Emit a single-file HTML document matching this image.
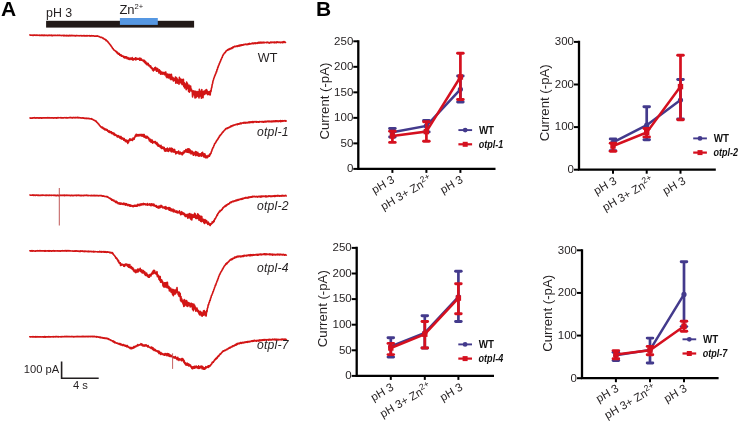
<!DOCTYPE html>
<html><head><meta charset="utf-8"><style>
html,body{margin:0;padding:0;background:#fff;}
body{width:741px;height:423px;overflow:hidden;}
svg{display:block;font-family:"Liberation Sans",sans-serif;will-change:transform;}
</style></head><body>
<svg width="741" height="423" viewBox="0 0 741 423">
<rect width="741" height="423" fill="#fff"/>
<text x="1" y="16.2" font-size="21" font-weight="bold" fill="#000">A</text>
<text x="316" y="16.2" font-size="21" font-weight="bold" fill="#000">B</text>
<rect x="46.1" y="20.8" width="148" height="6.8" fill="#221a18"/>
<rect x="119.9" y="18" width="37.9" height="6.9" fill="#5597e2"/>
<text x="46" y="16.8" font-size="12.4" fill="#231f20">pH 3</text>
<text x="119.4" y="13.5" font-size="13" fill="#231f20">Zn<tspan font-size="7.6" dy="-5">2+</tspan></text>
<path d="M29.40 35.25 L29.80 35.00 L30.20 35.28 L30.60 35.13 L31.00 35.20 L31.40 35.12 L31.80 35.29 L32.20 35.14 L32.60 35.37 L33.00 35.09 L33.40 35.44 L33.80 34.98 L34.20 35.22 L34.60 35.14 L35.00 35.28 L35.40 35.08 L35.80 35.33 L36.20 35.16 L36.60 35.36 L37.00 35.15 L37.40 35.33 L37.80 35.06 L38.20 35.32 L38.60 35.18 L39.00 35.46 L39.40 35.02 L39.80 35.39 L40.20 35.25 L40.60 35.34 L41.00 35.14 L41.40 35.52 L41.80 35.16 L42.20 35.46 L42.60 35.16 L43.00 35.48 L43.40 35.35 L43.80 35.57 L44.20 35.20 L44.60 35.49 L45.00 35.37 L45.40 35.41 L45.80 35.36 L46.20 35.41 L46.60 35.31 L47.00 35.43 L47.40 35.30 L47.80 35.65 L48.20 35.37 L48.60 35.55 L49.00 35.19 L49.40 35.46 L49.80 35.35 L50.20 35.53 L50.60 35.37 L51.00 35.49 L51.40 35.19 L51.80 35.55 L52.20 35.24 L52.60 35.65 L53.00 35.24 L53.40 35.54 L53.80 35.42 L54.20 35.46 L54.60 35.35 L55.00 35.47 L55.40 35.35 L55.80 35.42 L56.20 35.40 L56.60 35.55 L57.00 35.35 L57.40 35.48 L57.80 35.24 L58.20 35.56 L58.60 35.40 L59.00 35.51 L59.40 35.21 L59.80 35.49 L60.20 35.32 L60.60 35.55 L61.00 35.35 L61.40 35.71 L61.80 35.43 L62.20 35.57 L62.60 35.42 L63.00 35.61 L63.40 35.37 L63.80 35.80 L64.20 35.41 L64.60 35.66 L65.00 35.48 L65.40 35.57 L65.80 35.50 L66.20 35.80 L66.60 35.37 L67.00 35.83 L67.40 35.52 L67.80 35.61 L68.20 35.45 L68.60 35.80 L69.00 35.47 L69.40 35.66 L69.80 35.43 L70.20 35.82 L70.60 35.61 L71.00 35.76 L71.40 35.43 L71.80 35.79 L72.20 35.49 L72.60 35.68 L73.00 35.44 L73.40 35.73 L73.80 35.45 L74.20 35.78 L74.60 35.61 L75.00 35.91 L75.40 35.58 L75.80 35.83 L76.20 35.50 L76.60 35.74 L77.00 35.63 L77.40 35.75 L77.80 35.67 L78.20 35.80 L78.60 35.61 L79.00 35.87 L79.40 35.65 L79.80 35.84 L80.20 35.60 L80.60 35.75 L81.00 35.67 L81.40 35.90 L81.80 35.65 L82.20 35.89 L82.60 35.72 L83.00 35.80 L83.40 35.56 L83.80 35.90 L84.20 35.54 L84.60 35.91 L85.00 35.66 L85.40 35.89 L85.80 35.70 L86.20 36.00 L86.60 35.58 L87.00 35.97 L87.40 35.60 L87.80 35.84 L88.20 35.75 L88.60 35.83 L89.00 35.64 L89.40 35.89 L89.80 35.66 L90.20 36.07 L90.60 35.84 L91.00 36.00 L91.40 35.69 L91.80 35.98 L92.20 35.81 L92.60 35.98 L93.00 35.73 L93.40 36.04 L93.80 35.89 L94.20 36.09 L94.60 35.96 L95.00 36.23 L95.40 36.00 L95.80 36.09 L96.20 35.98 L96.60 36.19 L97.00 35.89 L97.40 36.18 L97.80 36.05 L98.20 36.32 L98.60 36.24 L99.00 36.63 L99.40 36.58 L99.80 36.96 L100.20 37.04 L100.60 37.34 L101.00 37.19 L101.40 37.55 L101.80 37.37 L102.20 37.78 L102.60 37.91 L103.00 38.32 L103.40 38.18 L103.80 38.88 L104.20 38.80 L104.60 39.26 L105.00 39.19 L105.40 39.82 L105.80 39.63 L106.20 40.57 L106.60 40.42 L107.00 41.01 L107.40 40.95 L107.80 41.89 L108.20 42.03 L108.60 42.94 L109.00 43.21 L109.40 43.87 L109.80 44.18 L110.20 44.92 L110.60 45.03 L111.00 46.01 L111.40 46.27 L111.80 47.00 L112.20 47.38 L112.60 48.49 L113.00 48.49 L113.40 49.24 L113.80 49.54 L114.20 50.25 L114.60 50.25 L115.00 50.72 L115.40 50.92 L115.80 51.34 L116.20 51.40 L116.60 52.31 L117.00 51.87 L117.40 53.26 L117.80 52.84 L118.20 54.10 L118.60 53.25 L119.00 54.23 L119.40 53.69 L119.80 55.21 L120.20 54.72 L120.60 55.53 L121.00 54.78 L121.40 56.15 L121.80 55.37 L122.20 56.18 L122.60 55.99 L123.00 56.56 L123.40 56.19 L123.80 57.41 L124.20 56.50 L124.60 57.84 L125.00 56.84 L125.40 57.89 L125.80 56.70 L126.20 57.61 L126.60 56.87 L127.00 58.62 L127.40 57.54 L127.80 58.72 L128.20 57.64 L128.60 59.11 L129.00 58.34 L129.40 59.45 L129.80 58.06 L130.20 58.85 L130.60 58.09 L131.00 59.53 L131.40 58.26 L131.80 59.22 L132.20 57.64 L132.60 59.99 L133.00 58.76 L133.40 59.97 L133.80 58.48 L134.20 59.38 L134.60 58.87 L135.00 59.32 L135.40 57.87 L135.80 59.89 L136.20 58.05 L136.60 59.48 L137.00 58.51 L137.40 59.16 L137.80 58.52 L138.20 59.19 L138.60 58.79 L139.00 59.35 L139.40 58.18 L139.80 60.28 L140.20 58.22 L140.60 59.82 L141.00 58.48 L141.40 60.21 L141.80 59.54 L142.20 60.37 L142.60 60.22 L143.00 60.93 L143.40 60.17 L143.80 61.49 L144.20 60.37 L144.60 62.55 L145.00 61.09 L145.40 63.19 L145.80 61.86 L146.20 64.00 L146.60 62.95 L147.00 64.70 L147.40 63.32 L147.80 64.75 L148.20 63.40 L148.60 65.80 L149.00 64.65 L149.40 65.87 L149.80 65.88 L150.20 67.10 L150.60 65.82 L151.00 67.87 L151.40 67.24 L151.80 68.40 L152.20 68.09 L152.60 69.96 L153.00 68.72 L153.40 70.86 L153.80 69.48 L154.20 69.85 L154.60 67.75 L155.00 69.86 L155.40 67.34 L155.80 69.26 L156.20 68.47 L156.60 71.28 L157.00 68.17 L157.40 70.31 L157.80 68.81 L158.20 71.45 L158.60 70.33 L159.00 73.02 L159.40 69.78 L159.80 72.01 L160.20 71.07 L160.60 74.23 L161.00 71.45 L161.40 73.77 L161.80 72.97 L162.20 74.13 L162.60 72.25 L163.00 73.92 L163.40 72.48 L163.80 74.04 L164.20 72.78 L164.60 74.77 L165.00 72.40 L165.40 74.69 L165.80 71.98 L166.20 76.79 L166.60 74.03 L167.00 77.60 L167.40 74.16 L167.80 76.65 L168.20 74.38 L168.60 77.87 L169.00 75.26 L169.40 77.08 L169.80 74.27 L170.20 78.97 L170.60 75.27 L171.00 79.78 L171.40 74.41 L171.80 78.18 L172.20 77.24 L172.60 79.57 L173.00 77.48 L173.40 81.01 L173.80 78.43 L174.20 80.46 L174.60 78.79 L175.00 79.92 L175.40 77.08 L175.80 83.22 L176.20 77.50 L176.60 82.05 L177.00 78.38 L177.40 83.21 L177.80 79.71 L178.20 81.38 L178.60 79.81 L179.00 84.22 L179.40 77.22 L179.80 82.78 L180.20 78.77 L180.60 82.48 L181.00 81.47 L181.40 83.68 L181.80 79.20 L182.20 84.74 L182.60 80.12 L183.00 83.21 L183.40 79.33 L183.80 86.57 L184.20 82.50 L184.60 88.05 L185.00 83.75 L185.40 86.14 L185.80 85.24 L186.20 89.80 L186.60 82.03 L187.00 87.23 L187.40 83.26 L187.80 88.71 L188.20 85.87 L188.60 91.36 L189.00 84.95 L189.40 92.30 L189.80 86.58 L190.20 90.56 L190.60 85.97 L191.00 91.06 L191.40 88.99 L191.80 91.23 L192.20 90.58 L192.60 96.93 L193.00 91.72 L193.40 94.03 L193.80 90.72 L194.20 94.86 L194.60 91.49 L195.00 97.91 L195.40 91.34 L195.80 97.70 L196.20 91.58 L196.60 96.92 L197.00 92.47 L197.40 95.04 L197.80 91.52 L198.20 96.34 L198.60 92.05 L199.00 97.90 L199.40 89.27 L199.80 96.21 L200.20 91.00 L200.60 94.78 L201.00 93.03 L201.40 98.26 L201.80 89.60 L202.20 97.43 L202.60 92.90 L203.00 97.63 L203.40 91.25 L203.80 94.54 L204.20 92.43 L204.60 94.51 L205.00 90.44 L205.40 93.35 L205.80 89.95 L206.20 93.71 L206.60 89.48 L207.00 92.86 L207.40 91.06 L207.80 94.72 L208.20 91.91 L208.60 94.12 L209.00 92.04 L209.40 94.58 L209.80 91.47 L210.20 94.99 L210.60 90.65 L211.00 91.51 L211.40 88.30 L211.80 87.43 L212.20 84.46 L212.60 83.50 L213.00 80.98 L213.40 80.05 L213.80 78.33 L214.20 77.67 L214.60 76.09 L215.00 75.67 L215.40 74.06 L215.80 73.81 L216.20 71.88 L216.60 71.75 L217.00 69.57 L217.40 69.43 L217.80 67.17 L218.20 67.15 L218.60 65.14 L219.00 64.98 L219.40 63.25 L219.80 62.92 L220.20 61.54 L220.60 60.94 L221.00 59.59 L221.40 59.12 L221.80 57.64 L222.20 57.47 L222.60 55.83 L223.00 55.46 L223.40 54.27 L223.80 54.21 L224.20 53.30 L224.60 53.09 L225.00 52.27 L225.40 52.43 L225.80 51.30 L226.20 51.19 L226.60 50.46 L227.00 50.42 L227.40 49.85 L227.80 50.16 L228.20 49.36 L228.60 49.71 L229.00 49.03 L229.40 49.52 L229.80 48.52 L230.20 49.15 L230.60 48.57 L231.00 48.77 L231.40 47.80 L231.80 48.51 L232.20 47.82 L232.60 47.98 L233.00 46.93 L233.40 47.53 L233.80 46.76 L234.20 46.88 L234.60 46.30 L235.00 46.42 L235.40 46.27 L235.80 46.68 L236.20 46.21 L236.60 46.30 L237.00 45.81 L237.40 46.47 L237.80 45.73 L238.20 46.07 L238.60 45.57 L239.00 46.13 L239.40 45.16 L239.80 45.79 L240.20 45.27 L240.60 45.69 L241.00 44.81 L241.40 45.53 L241.80 44.89 L242.20 45.16 L242.60 44.83 L243.00 45.11 L243.40 44.58 L243.80 44.81 L244.20 44.28 L244.60 44.58 L245.00 44.39 L245.40 44.55 L245.80 44.06 L246.20 44.59 L246.60 44.23 L247.00 44.33 L247.40 44.10 L247.80 44.60 L248.20 43.87 L248.60 44.08 L249.00 43.68 L249.40 44.19 L249.80 43.38 L250.20 43.98 L250.60 43.73 L251.00 43.87 L251.40 43.59 L251.80 43.66 L252.20 43.03 L252.60 43.59 L253.00 43.22 L253.40 43.77 L253.80 43.15 L254.20 43.39 L254.60 42.93 L255.00 43.37 L255.40 42.90 L255.80 43.56 L256.20 42.97 L256.60 43.10 L257.00 42.83 L257.40 43.34 L257.80 42.58 L258.20 43.14 L258.60 42.45 L259.00 42.96 L259.40 42.25 L259.80 43.07 L260.20 42.43 L260.60 42.97 L261.00 42.18 L261.40 42.93 L261.80 42.39 L262.20 42.81 L262.60 42.22 L263.00 42.75 L263.40 42.23 L263.80 42.78 L264.20 42.25 L264.60 42.63 L265.00 42.50 L265.40 42.56 L265.80 42.45 L266.20 42.62 L266.60 42.32 L267.00 42.73 L267.40 42.10 L267.80 42.51 L268.20 42.31 L268.60 42.93 L269.00 42.50 L269.40 43.07 L269.80 42.46 L270.20 42.52 L270.60 42.06 L271.00 42.82 L271.40 42.17 L271.80 42.47 L272.20 41.99 L272.60 42.51 L273.00 42.27 L273.40 42.51 L273.80 42.17 L274.20 42.84 L274.60 41.96 L275.00 42.42 L275.40 42.21 L275.80 42.61 L276.20 42.14 L276.60 42.75 L277.00 41.86 L277.40 42.27 L277.80 41.94 L278.20 42.35 L278.60 42.11 L279.00 42.43 L279.40 42.19 L279.80 42.54 L280.20 42.19 L280.60 42.65 L281.00 42.24 L281.40 42.41 L281.80 42.02 L282.20 42.60 L282.60 42.07 L283.00 42.62 L283.40 41.65 L283.80 42.17 L284.20 41.62 L284.60 42.31 L285.00 41.99 L285.40 42.39 L285.80 41.78" fill="none" stroke="#d21515" stroke-width="1.6" stroke-linejoin="round"/>
<path d="M29.40 118.07 L29.80 117.97 L30.20 118.18 L30.60 117.96 L31.00 118.20 L31.40 117.96 L31.80 118.19 L32.20 117.91 L32.60 118.15 L33.00 117.91 L33.40 118.00 L33.80 117.79 L34.20 117.97 L34.60 117.68 L35.00 117.99 L35.40 117.91 L35.80 118.21 L36.20 117.78 L36.60 118.01 L37.00 117.89 L37.40 117.99 L37.80 117.83 L38.20 118.08 L38.60 117.76 L39.00 117.96 L39.40 117.84 L39.80 118.15 L40.20 117.80 L40.60 118.01 L41.00 117.76 L41.40 118.13 L41.80 117.74 L42.20 118.08 L42.60 117.86 L43.00 117.95 L43.40 117.74 L43.80 118.05 L44.20 117.79 L44.60 118.02 L45.00 117.75 L45.40 117.96 L45.80 117.70 L46.20 118.03 L46.60 117.88 L47.00 117.97 L47.40 117.68 L47.80 117.94 L48.20 117.78 L48.60 118.02 L49.00 117.69 L49.40 118.01 L49.80 117.86 L50.20 118.01 L50.60 117.90 L51.00 117.97 L51.40 117.80 L51.80 117.87 L52.20 117.76 L52.60 117.91 L53.00 117.78 L53.40 118.07 L53.80 117.79 L54.20 117.91 L54.60 117.79 L55.00 118.03 L55.40 117.72 L55.80 117.91 L56.20 117.77 L56.60 118.06 L57.00 117.72 L57.40 117.92 L57.80 117.57 L58.20 117.96 L58.60 117.64 L59.00 117.81 L59.40 117.71 L59.80 117.78 L60.20 117.64 L60.60 117.82 L61.00 117.56 L61.40 117.97 L61.80 117.73 L62.20 118.00 L62.60 117.75 L63.00 117.89 L63.40 117.75 L63.80 117.89 L64.20 117.67 L64.60 117.79 L65.00 117.61 L65.40 117.94 L65.80 117.69 L66.20 117.89 L66.60 117.61 L67.00 117.97 L67.40 117.72 L67.80 117.90 L68.20 117.69 L68.60 117.88 L69.00 117.65 L69.40 117.79 L69.80 117.53 L70.20 117.76 L70.60 117.54 L71.00 117.71 L71.40 117.58 L71.80 117.86 L72.20 117.60 L72.60 117.89 L73.00 117.50 L73.40 117.68 L73.80 117.52 L74.20 117.79 L74.60 117.57 L75.00 117.87 L75.40 117.48 L75.80 117.75 L76.20 117.57 L76.60 117.79 L77.00 117.60 L77.40 117.74 L77.80 117.42 L78.20 117.81 L78.60 117.50 L79.00 117.81 L79.40 117.59 L79.80 117.84 L80.20 117.73 L80.60 118.01 L81.00 117.88 L81.40 118.15 L81.80 117.92 L82.20 117.98 L82.60 117.78 L83.00 118.22 L83.40 117.88 L83.80 118.29 L84.20 118.02 L84.60 118.35 L85.00 118.07 L85.40 118.41 L85.80 118.19 L86.20 118.50 L86.60 118.19 L87.00 118.60 L87.40 118.29 L87.80 118.53 L88.20 118.42 L88.60 118.71 L89.00 118.57 L89.40 118.64 L89.80 118.46 L90.20 118.91 L90.60 118.69 L91.00 118.93 L91.40 118.62 L91.80 119.14 L92.20 119.05 L92.60 119.44 L93.00 119.59 L93.40 119.92 L93.80 120.06 L94.20 120.32 L94.60 120.21 L95.00 120.87 L95.40 120.82 L95.80 121.36 L96.20 121.12 L96.60 122.12 L97.00 122.20 L97.40 123.02 L97.80 122.95 L98.20 123.80 L98.60 123.73 L99.00 124.80 L99.40 125.04 L99.80 125.78 L100.20 125.78 L100.60 126.73 L101.00 126.87 L101.40 127.43 L101.80 126.98 L102.20 127.87 L102.60 127.21 L103.00 128.38 L103.40 128.20 L103.80 129.04 L104.20 128.49 L104.60 129.74 L105.00 128.65 L105.40 129.69 L105.80 129.28 L106.20 130.32 L106.60 129.26 L107.00 130.12 L107.40 129.89 L107.80 131.30 L108.20 130.77 L108.60 131.93 L109.00 130.80 L109.40 132.42 L109.80 131.29 L110.20 132.33 L110.60 131.78 L111.00 132.82 L111.40 131.73 L111.80 133.59 L112.20 132.63 L112.60 133.69 L113.00 132.77 L113.40 134.11 L113.80 133.22 L114.20 135.05 L114.60 133.60 L115.00 135.33 L115.40 134.64 L115.80 135.39 L116.20 134.97 L116.60 136.00 L117.00 135.39 L117.40 136.93 L117.80 135.87 L118.20 137.01 L118.60 135.67 L119.00 136.94 L119.40 136.67 L119.80 138.03 L120.20 136.48 L120.60 138.26 L121.00 136.45 L121.40 139.06 L121.80 137.70 L122.20 138.41 L122.60 137.97 L123.00 139.28 L123.40 138.36 L123.80 140.30 L124.20 138.52 L124.60 140.07 L125.00 139.81 L125.40 141.52 L125.80 140.00 L126.20 141.63 L126.60 140.19 L127.00 141.97 L127.40 141.53 L127.80 143.45 L128.20 140.36 L128.60 142.22 L129.00 140.02 L129.40 140.40 L129.80 138.92 L130.20 140.54 L130.60 139.01 L131.00 139.99 L131.40 139.31 L131.80 140.26 L132.20 139.23 L132.60 140.40 L133.00 138.07 L133.40 138.89 L133.80 138.06 L134.20 139.20 L134.60 137.15 L135.00 137.21 L135.40 135.29 L135.80 136.38 L136.20 134.19 L136.60 135.97 L137.00 134.61 L137.40 135.94 L137.80 134.89 L138.20 135.46 L138.60 134.71 L139.00 136.06 L139.40 134.64 L139.80 135.52 L140.20 135.04 L140.60 135.55 L141.00 134.36 L141.40 135.90 L141.80 134.90 L142.20 136.11 L142.60 134.49 L143.00 136.12 L143.40 134.58 L143.80 136.92 L144.20 134.58 L144.60 137.25 L145.00 135.95 L145.40 137.64 L145.80 136.44 L146.20 138.16 L146.60 136.25 L147.00 137.70 L147.40 136.58 L147.80 137.96 L148.20 137.39 L148.60 138.95 L149.00 138.23 L149.40 140.78 L149.80 139.46 L150.20 141.32 L150.60 139.34 L151.00 142.12 L151.40 140.12 L151.80 142.29 L152.20 140.15 L152.60 143.10 L153.00 141.64 L153.40 142.51 L153.80 141.51 L154.20 142.38 L154.60 141.64 L155.00 142.81 L155.40 141.48 L155.80 143.60 L156.20 142.89 L156.60 144.17 L157.00 142.62 L157.40 145.29 L157.80 143.68 L158.20 146.31 L158.60 144.49 L159.00 145.78 L159.40 145.31 L159.80 146.80 L160.20 145.91 L160.60 147.33 L161.00 145.35 L161.40 148.46 L161.80 146.88 L162.20 148.24 L162.60 147.04 L163.00 148.40 L163.40 147.24 L163.80 148.97 L164.20 147.41 L164.60 150.88 L165.00 148.89 L165.40 151.20 L165.80 149.06 L166.20 151.00 L166.60 148.86 L167.00 150.30 L167.40 148.10 L167.80 151.16 L168.20 149.21 L168.60 151.35 L169.00 148.76 L169.40 150.37 L169.80 148.16 L170.20 150.10 L170.60 149.11 L171.00 151.56 L171.40 148.17 L171.80 151.89 L172.20 148.58 L172.60 151.50 L173.00 149.18 L173.40 151.89 L173.80 149.83 L174.20 152.08 L174.60 149.42 L175.00 152.14 L175.40 151.53 L175.80 153.90 L176.20 151.73 L176.60 153.22 L177.00 151.96 L177.40 152.97 L177.80 151.83 L178.20 152.81 L178.60 151.13 L179.00 153.92 L179.40 152.66 L179.80 154.00 L180.20 152.08 L180.60 153.68 L181.00 152.73 L181.40 153.99 L181.80 153.08 L182.20 154.82 L182.60 152.27 L183.00 153.89 L183.40 152.66 L183.80 153.06 L184.20 150.70 L184.60 152.36 L185.00 151.17 L185.40 151.91 L185.80 149.51 L186.20 151.54 L186.60 150.31 L187.00 152.23 L187.40 148.99 L187.80 152.12 L188.20 148.92 L188.60 152.52 L189.00 148.83 L189.40 152.59 L189.80 149.46 L190.20 152.67 L190.60 150.65 L191.00 153.96 L191.40 151.18 L191.80 153.55 L192.20 151.21 L192.60 153.82 L193.00 152.35 L193.40 155.31 L193.80 152.64 L194.20 154.05 L194.60 153.34 L195.00 154.73 L195.40 151.55 L195.80 155.69 L196.20 151.69 L196.60 155.04 L197.00 153.73 L197.40 155.21 L197.80 152.34 L198.20 155.84 L198.60 153.72 L199.00 156.16 L199.40 154.11 L199.80 155.93 L200.20 153.81 L200.60 155.31 L201.00 154.07 L201.40 156.20 L201.80 152.75 L202.20 155.70 L202.60 152.35 L203.00 155.71 L203.40 153.93 L203.80 156.87 L204.20 153.73 L204.60 157.03 L205.00 154.11 L205.40 157.74 L205.80 155.72 L206.20 157.33 L206.60 156.09 L207.00 157.87 L207.40 156.12 L207.80 157.20 L208.20 155.42 L208.60 156.28 L209.00 155.31 L209.40 156.26 L209.80 154.03 L210.20 154.82 L210.60 153.33 L211.00 153.40 L211.40 151.46 L211.80 150.97 L212.20 149.18 L212.60 148.84 L213.00 147.48 L213.40 147.34 L213.80 145.76 L214.20 145.32 L214.60 143.67 L215.00 143.54 L215.40 142.76 L215.80 142.50 L216.20 141.26 L216.60 141.00 L217.00 140.04 L217.40 139.93 L217.80 138.81 L218.20 138.86 L218.60 137.59 L219.00 137.46 L219.40 136.15 L219.80 136.07 L220.20 135.17 L220.60 135.13 L221.00 134.23 L221.40 134.19 L221.80 133.31 L222.20 133.10 L222.60 131.95 L223.00 132.21 L223.40 131.23 L223.80 131.18 L224.20 130.52 L224.60 130.30 L225.00 129.55 L225.40 129.28 L225.80 128.52 L226.20 128.79 L226.60 128.41 L227.00 128.66 L227.40 127.91 L227.80 128.28 L228.20 127.57 L228.60 127.81 L229.00 127.38 L229.40 127.49 L229.80 126.78 L230.20 127.11 L230.60 126.14 L231.00 126.54 L231.40 125.84 L231.80 126.33 L232.20 125.48 L232.60 125.72 L233.00 125.30 L233.40 125.62 L233.80 125.00 L234.20 125.24 L234.60 124.90 L235.00 125.03 L235.40 124.67 L235.80 124.81 L236.20 124.36 L236.60 124.53 L237.00 124.19 L237.40 124.72 L237.80 123.77 L238.20 124.14 L238.60 123.91 L239.00 124.15 L239.40 123.54 L239.80 123.92 L240.20 123.03 L240.60 123.59 L241.00 123.17 L241.40 123.57 L241.80 123.04 L242.20 123.11 L242.60 122.81 L243.00 122.96 L243.40 122.53 L243.80 123.24 L244.20 122.41 L244.60 122.97 L245.00 122.49 L245.40 123.09 L245.80 122.43 L246.20 123.00 L246.60 122.45 L247.00 122.61 L247.40 122.44 L247.80 122.82 L248.20 122.07 L248.60 122.78 L249.00 122.17 L249.40 122.75 L249.80 121.80 L250.20 122.64 L250.60 121.93 L251.00 122.27 L251.40 121.96 L251.80 122.53 L252.20 121.58 L252.60 122.31 L253.00 121.84 L253.40 122.47 L253.80 121.67 L254.20 121.97 L254.60 121.66 L255.00 121.96 L255.40 121.50 L255.80 121.92 L256.20 121.55 L256.60 122.25 L257.00 121.69 L257.40 121.93 L257.80 121.72 L258.20 122.17 L258.60 121.81 L259.00 122.17 L259.40 121.54 L259.80 121.93 L260.20 121.62 L260.60 121.81 L261.00 121.66 L261.40 121.91 L261.80 121.53 L262.20 121.81 L262.60 121.50 L263.00 122.12 L263.40 121.58 L263.80 122.15 L264.20 121.57 L264.60 121.80 L265.00 121.26 L265.40 122.01 L265.80 121.32 L266.20 121.88 L266.60 121.38 L267.00 121.61 L267.40 121.10 L267.80 121.64 L268.20 121.17 L268.60 121.71 L269.00 121.21 L269.40 121.70 L269.80 121.09 L270.20 121.67 L270.60 121.35 L271.00 121.56 L271.40 121.17 L271.80 121.86 L272.20 121.05 L272.60 121.71 L273.00 121.33 L273.40 121.61 L273.80 120.95 L274.20 121.56 L274.60 121.19 L275.00 121.42 L275.40 120.79 L275.80 121.62 L276.20 120.80 L276.60 121.35 L277.00 120.95 L277.40 121.34 L277.80 120.90 L278.20 121.60 L278.60 120.99 L279.00 121.37 L279.40 120.93 L279.80 121.20 L280.20 120.61 L280.60 121.59 L281.00 120.67 L281.40 121.47 L281.80 120.75 L282.20 121.22 L282.60 120.57 L283.00 121.32 L283.40 120.89 L283.80 121.04 L284.20 120.64 L284.60 121.05 L285.00 120.80 L285.40 121.16 L285.80 120.66 L286.20 120.95 L286.60 120.43" fill="none" stroke="#d21515" stroke-width="1.6" stroke-linejoin="round"/>
<path d="M29.40 195.27 L29.80 195.13 L30.20 195.30 L30.60 195.08 L31.00 195.26 L31.40 195.17 L31.80 195.31 L32.20 195.06 L32.60 195.29 L33.00 195.09 L33.40 195.37 L33.80 194.96 L34.20 195.28 L34.60 195.12 L35.00 195.46 L35.40 195.02 L35.80 195.36 L36.20 195.12 L36.60 195.22 L37.00 195.13 L37.40 195.36 L37.80 195.00 L38.20 195.44 L38.60 195.03 L39.00 195.33 L39.40 195.21 L39.80 195.48 L40.20 195.26 L40.60 195.51 L41.00 195.12 L41.40 195.40 L41.80 195.16 L42.20 195.35 L42.60 195.13 L43.00 195.34 L43.40 195.09 L43.80 195.30 L44.20 195.25 L44.60 195.34 L45.00 195.24 L45.40 195.37 L45.80 195.07 L46.20 195.48 L46.60 195.04 L47.00 195.34 L47.40 195.17 L47.80 195.45 L48.20 195.24 L48.60 195.45 L49.00 195.16 L49.40 195.47 L49.80 195.07 L50.20 195.31 L50.60 195.26 L51.00 195.42 L51.40 195.23 L51.80 195.41 L52.20 195.20 L52.60 195.33 L53.00 195.20 L53.40 195.43 L53.80 195.27 L54.20 195.45 L54.60 195.23 L55.00 195.38 L55.40 195.23 L55.80 195.57 L56.20 195.22 L56.60 195.58 L57.00 195.23 L57.40 195.45 L57.80 195.20 L58.20 195.63 L58.60 195.34 L59.00 195.59 L59.40 195.25 L59.80 195.52 L60.20 195.34 L60.60 195.49 L61.00 195.29 L61.40 195.44 L61.80 195.27 L62.20 195.41 L62.60 195.28 L63.00 195.51 L63.40 195.30 L63.80 195.41 L64.20 195.18 L64.60 195.58 L65.00 195.14 L65.40 195.38 L65.80 195.26 L66.20 195.50 L66.60 195.35 L67.00 195.47 L67.40 195.20 L67.80 195.45 L68.20 195.33 L68.60 195.53 L69.00 195.26 L69.40 195.53 L69.80 195.22 L70.20 195.60 L70.60 195.25 L71.00 195.62 L71.40 195.32 L71.80 195.47 L72.20 195.22 L72.60 195.64 L73.00 195.36 L73.40 195.59 L73.80 195.27 L74.20 195.46 L74.60 195.41 L75.00 195.52 L75.40 195.29 L75.80 195.51 L76.20 195.19 L76.60 195.64 L77.00 195.28 L77.40 195.48 L77.80 195.34 L78.20 195.55 L78.60 195.19 L79.00 195.53 L79.40 195.30 L79.80 195.57 L80.20 195.24 L80.60 195.62 L81.00 195.26 L81.40 195.67 L81.80 195.37 L82.20 195.63 L82.60 195.43 L83.00 195.60 L83.40 195.30 L83.80 195.72 L84.20 195.27 L84.60 195.46 L85.00 195.41 L85.40 195.56 L85.80 195.21 L86.20 195.47 L86.60 195.30 L87.00 195.50 L87.40 195.26 L87.80 195.70 L88.20 195.31 L88.60 195.66 L89.00 195.43 L89.40 195.57 L89.80 195.51 L90.20 195.67 L90.60 195.54 L91.00 195.70 L91.40 195.37 L91.80 195.64 L92.20 195.51 L92.60 195.61 L93.00 195.38 L93.40 195.67 L93.80 195.55 L94.20 195.67 L94.60 195.39 L95.00 195.80 L95.40 195.53 L95.80 195.74 L96.20 195.59 L96.60 195.76 L97.00 195.51 L97.40 195.72 L97.80 195.59 L98.20 195.85 L98.60 195.46 L99.00 195.70 L99.40 195.62 L99.80 195.70 L100.20 195.64 L100.60 195.69 L101.00 195.45 L101.40 195.81 L101.80 195.65 L102.20 196.13 L102.60 195.90 L103.00 196.20 L103.40 195.92 L103.80 196.23 L104.20 196.21 L104.60 196.46 L105.00 196.39 L105.40 196.57 L105.80 196.54 L106.20 196.77 L106.60 196.57 L107.00 196.95 L107.40 196.54 L107.80 197.28 L108.20 197.10 L108.60 197.76 L109.00 197.71 L109.40 198.13 L109.80 198.15 L110.20 198.67 L110.60 198.45 L111.00 199.30 L111.40 199.01 L111.80 200.11 L112.20 199.63 L112.60 200.39 L113.00 200.15 L113.40 200.77 L113.80 200.06 L114.20 201.37 L114.60 201.05 L115.00 201.61 L115.40 201.34 L115.80 202.37 L116.20 201.19 L116.60 202.56 L117.00 201.79 L117.40 202.86 L117.80 202.79 L118.20 203.78 L118.60 202.89 L119.00 203.74 L119.40 202.88 L119.80 204.13 L120.20 203.15 L120.60 204.16 L121.00 203.12 L121.40 203.94 L121.80 203.64 L122.20 204.37 L122.60 203.55 L123.00 204.13 L123.40 203.16 L123.80 204.48 L124.20 203.31 L124.60 204.34 L125.00 203.86 L125.40 205.13 L125.80 203.62 L126.20 204.91 L126.60 203.87 L127.00 204.80 L127.40 204.59 L127.80 205.56 L128.20 204.51 L128.60 205.50 L129.00 204.68 L129.40 205.87 L129.80 204.84 L130.20 206.16 L130.60 205.20 L131.00 206.05 L131.40 205.43 L131.80 206.10 L132.20 205.77 L132.60 206.51 L133.00 205.63 L133.40 206.60 L133.80 205.53 L134.20 206.24 L134.60 205.32 L135.00 206.12 L135.40 205.33 L135.80 206.19 L136.20 205.22 L136.60 206.15 L137.00 205.07 L137.40 206.06 L137.80 204.35 L138.20 205.50 L138.60 204.69 L139.00 205.52 L139.40 204.35 L139.80 205.58 L140.20 204.62 L140.60 204.99 L141.00 203.75 L141.40 204.89 L141.80 204.01 L142.20 204.79 L142.60 203.73 L143.00 204.39 L143.40 203.38 L143.80 204.71 L144.20 203.85 L144.60 204.25 L145.00 203.90 L145.40 204.80 L145.80 204.10 L146.20 204.90 L146.60 204.23 L147.00 204.79 L147.40 203.53 L147.80 205.31 L148.20 204.16 L148.60 204.78 L149.00 204.34 L149.40 204.90 L149.80 203.75 L150.20 205.18 L150.60 204.52 L151.00 205.74 L151.40 203.84 L151.80 204.91 L152.20 204.13 L152.60 205.27 L153.00 204.17 L153.40 205.79 L153.80 204.08 L154.20 205.41 L154.60 204.88 L155.00 206.21 L155.40 205.60 L155.80 206.51 L156.20 205.50 L156.60 207.21 L157.00 206.52 L157.40 207.25 L157.80 206.40 L158.20 208.09 L158.60 206.35 L159.00 208.00 L159.40 205.97 L159.80 207.58 L160.20 206.32 L160.60 207.39 L161.00 205.24 L161.40 206.48 L161.80 205.75 L162.20 207.31 L162.60 206.81 L163.00 207.90 L163.40 207.16 L163.80 207.70 L164.20 207.19 L164.60 208.30 L165.00 206.93 L165.40 208.84 L165.80 206.62 L166.20 209.07 L166.60 207.50 L167.00 208.69 L167.40 208.05 L167.80 208.69 L168.20 207.63 L168.60 209.47 L169.00 207.44 L169.40 210.29 L169.80 207.83 L170.20 209.70 L170.60 208.41 L171.00 210.83 L171.40 209.14 L171.80 210.86 L172.20 209.80 L172.60 210.80 L173.00 209.13 L173.40 211.82 L173.80 209.91 L174.20 211.71 L174.60 210.10 L175.00 211.77 L175.40 211.12 L175.80 212.17 L176.20 211.19 L176.60 212.47 L177.00 210.91 L177.40 212.90 L177.80 211.78 L178.20 212.43 L178.60 211.94 L179.00 212.92 L179.40 210.87 L179.80 212.90 L180.20 212.12 L180.60 214.62 L181.00 212.19 L181.40 214.34 L181.80 211.67 L182.20 213.29 L182.60 212.73 L183.00 214.42 L183.40 212.96 L183.80 213.97 L184.20 213.37 L184.60 215.67 L185.00 214.76 L185.40 216.55 L185.80 214.24 L186.20 216.57 L186.60 215.34 L187.00 216.17 L187.40 214.53 L187.80 218.11 L188.20 214.20 L188.60 217.77 L189.00 214.14 L189.40 217.11 L189.80 213.44 L190.20 218.38 L190.60 214.54 L191.00 219.35 L191.40 214.22 L191.80 219.89 L192.20 215.73 L192.60 217.75 L193.00 214.68 L193.40 217.16 L193.80 215.24 L194.20 217.20 L194.60 213.41 L195.00 217.52 L195.40 214.14 L195.80 218.37 L196.20 215.44 L196.60 218.51 L197.00 215.80 L197.40 217.12 L197.80 213.69 L198.20 218.60 L198.60 214.79 L199.00 220.29 L199.40 215.73 L199.80 219.92 L200.20 216.37 L200.60 221.30 L201.00 216.20 L201.40 221.74 L201.80 216.64 L202.20 220.84 L202.60 219.33 L203.00 221.32 L203.40 219.29 L203.80 222.74 L204.20 220.26 L204.60 223.53 L205.00 219.43 L205.40 222.53 L205.80 220.46 L206.20 222.87 L206.60 220.56 L207.00 222.68 L207.40 222.28 L207.80 224.33 L208.20 221.97 L208.60 223.81 L209.00 223.19 L209.40 224.94 L209.80 224.02 L210.20 225.54 L210.60 223.66 L211.00 224.40 L211.40 223.75 L211.80 223.62 L212.20 221.84 L212.60 222.88 L213.00 221.75 L213.40 222.23 L213.80 220.52 L214.20 221.42 L214.60 219.06 L215.00 219.34 L215.40 218.19 L215.80 218.06 L216.20 216.77 L216.60 216.39 L217.00 214.94 L217.40 215.20 L217.80 213.64 L218.20 213.63 L218.60 212.63 L219.00 212.41 L219.40 211.37 L219.80 211.66 L220.20 210.40 L220.60 210.82 L221.00 210.18 L221.40 210.21 L221.80 209.21 L222.20 209.56 L222.60 208.17 L223.00 208.26 L223.40 207.25 L223.80 207.46 L224.20 206.61 L224.60 206.76 L225.00 205.95 L225.40 206.33 L225.80 205.42 L226.20 205.93 L226.60 204.80 L227.00 205.18 L227.40 204.40 L227.80 204.54 L228.20 203.90 L228.60 204.26 L229.00 203.51 L229.40 203.70 L229.80 202.59 L230.20 202.78 L230.60 202.20 L231.00 202.66 L231.40 201.81 L231.80 202.23 L232.20 201.47 L232.60 201.56 L233.00 201.17 L233.40 201.71 L233.80 201.06 L234.20 201.32 L234.60 200.72 L235.00 201.00 L235.40 200.35 L235.80 200.89 L236.20 200.09 L236.60 200.58 L237.00 199.99 L237.40 200.38 L237.80 199.51 L238.20 200.20 L238.60 199.58 L239.00 199.72 L239.40 199.42 L239.80 199.76 L240.20 199.12 L240.60 199.25 L241.00 198.81 L241.40 199.32 L241.80 198.49 L242.20 199.25 L242.60 198.46 L243.00 198.87 L243.40 198.30 L243.80 198.53 L244.20 197.89 L244.60 198.13 L245.00 197.84 L245.40 198.07 L245.80 197.43 L246.20 197.89 L246.60 197.54 L247.00 198.04 L247.40 197.50 L247.80 197.88 L248.20 197.05 L248.60 197.83 L249.00 197.12 L249.40 197.46 L249.80 196.96 L250.20 197.29 L250.60 196.84 L251.00 197.14 L251.40 196.76 L251.80 197.21 L252.20 196.41 L252.60 197.01 L253.00 196.22 L253.40 196.70 L253.80 196.52 L254.20 196.66 L254.60 196.38 L255.00 196.74 L255.40 196.54 L255.80 196.89 L256.20 196.43 L256.60 196.74 L257.00 196.54 L257.40 197.04 L257.80 196.61 L258.20 196.69 L258.60 196.34 L259.00 196.86 L259.40 196.25 L259.80 196.77 L260.20 196.45 L260.60 197.10 L261.00 196.05 L261.40 196.95 L261.80 196.16 L262.20 196.62 L262.60 196.05 L263.00 196.50 L263.40 196.11 L263.80 196.45 L264.20 196.08 L264.60 196.46 L265.00 196.20 L265.40 196.60 L265.80 195.87 L266.20 196.89 L266.60 196.07 L267.00 196.41 L267.40 196.33 L267.80 196.72 L268.20 196.18 L268.60 196.41 L269.00 195.75 L269.40 196.25 L269.80 196.07 L270.20 196.61 L270.60 196.06 L271.00 196.26 L271.40 196.00 L271.80 196.70 L272.20 196.03 L272.60 196.25 L273.00 195.87 L273.40 196.19 L273.80 196.07 L274.20 196.51 L274.60 195.63 L275.00 196.43 L275.40 195.71 L275.80 196.09 L276.20 195.88 L276.60 196.09 L277.00 195.53 L277.40 196.08 L277.80 195.42 L278.20 195.89 L278.60 195.58 L279.00 196.12 L279.40 195.72 L279.80 196.26 L280.20 195.73 L280.60 195.84 L281.00 195.55 L281.40 196.09 L281.80 195.50 L282.20 195.99 L282.60 195.40 L283.00 195.98 L283.40 195.55 L283.80 196.00 L284.20 195.63 L284.60 195.92 L285.00 195.58 L285.40 195.78 L285.80 195.31 L286.20 196.01 L286.60 195.56" fill="none" stroke="#d21515" stroke-width="1.6" stroke-linejoin="round"/>
<path d="M29.40 251.17 L29.80 250.86 L30.20 250.98 L30.60 250.87 L31.00 251.16 L31.40 250.69 L31.80 250.92 L32.20 250.67 L32.60 251.11 L33.00 250.85 L33.40 250.95 L33.80 250.88 L34.20 251.17 L34.60 250.95 L35.00 251.11 L35.40 250.86 L35.80 251.13 L36.20 250.91 L36.60 251.05 L37.00 250.79 L37.40 251.03 L37.80 250.68 L38.20 250.96 L38.60 250.69 L39.00 250.92 L39.40 250.59 L39.80 250.90 L40.20 250.68 L40.60 251.04 L41.00 250.74 L41.40 250.99 L41.80 250.72 L42.20 251.01 L42.60 250.78 L43.00 251.00 L43.40 250.72 L43.80 250.95 L44.20 250.74 L44.60 251.09 L45.00 250.71 L45.40 251.07 L45.80 250.76 L46.20 251.05 L46.60 250.92 L47.00 251.08 L47.40 250.89 L47.80 251.01 L48.20 250.89 L48.60 251.17 L49.00 250.72 L49.40 251.18 L49.80 250.77 L50.20 251.00 L50.60 250.88 L51.00 251.16 L51.40 250.87 L51.80 251.16 L52.20 250.77 L52.60 251.02 L53.00 250.90 L53.40 251.05 L53.80 250.69 L54.20 251.06 L54.60 250.84 L55.00 251.08 L55.40 250.85 L55.80 251.01 L56.20 250.92 L56.60 250.98 L57.00 250.82 L57.40 251.02 L57.80 250.81 L58.20 251.16 L58.60 250.89 L59.00 250.98 L59.40 250.88 L59.80 251.18 L60.20 250.80 L60.60 251.09 L61.00 250.84 L61.40 250.91 L61.80 250.77 L62.20 250.90 L62.60 250.64 L63.00 250.97 L63.40 250.82 L63.80 250.94 L64.20 250.71 L64.60 251.02 L65.00 250.61 L65.40 251.02 L65.80 250.61 L66.20 251.05 L66.60 250.68 L67.00 250.85 L67.40 250.59 L67.80 250.98 L68.20 250.66 L68.60 250.84 L69.00 250.57 L69.40 251.00 L69.80 250.78 L70.20 250.91 L70.60 250.90 L71.00 251.06 L71.40 250.96 L71.80 251.07 L72.20 250.86 L72.60 251.09 L73.00 250.95 L73.40 251.21 L73.80 250.95 L74.20 251.11 L74.60 250.86 L75.00 251.24 L75.40 250.89 L75.80 251.10 L76.20 250.91 L76.60 251.19 L77.00 251.02 L77.40 251.18 L77.80 251.01 L78.20 251.11 L78.60 250.99 L79.00 251.38 L79.40 251.08 L79.80 251.35 L80.20 250.96 L80.60 251.43 L81.00 250.94 L81.40 251.27 L81.80 250.95 L82.20 251.24 L82.60 250.95 L83.00 251.41 L83.40 251.09 L83.80 251.32 L84.20 251.14 L84.60 251.56 L85.00 251.19 L85.40 251.46 L85.80 251.27 L86.20 251.55 L86.60 251.27 L87.00 251.56 L87.40 251.37 L87.80 251.76 L88.20 251.20 L88.60 251.72 L89.00 251.39 L89.40 251.72 L89.80 251.34 L90.20 251.53 L90.60 251.39 L91.00 251.69 L91.40 251.43 L91.80 251.64 L92.20 251.53 L92.60 251.81 L93.00 251.55 L93.40 251.87 L93.80 251.37 L94.20 251.98 L94.60 251.62 L95.00 251.80 L95.40 251.60 L95.80 251.74 L96.20 251.68 L96.60 251.79 L97.00 251.67 L97.40 251.96 L97.80 251.70 L98.20 251.87 L98.60 251.71 L99.00 251.96 L99.40 251.44 L99.80 251.82 L100.20 251.55 L100.60 251.94 L101.00 251.63 L101.40 252.18 L101.80 251.50 L102.20 251.94 L102.60 251.79 L103.00 251.94 L103.40 251.54 L103.80 252.05 L104.20 251.65 L104.60 252.19 L105.00 251.88 L105.40 252.19 L105.80 251.72 L106.20 252.34 L106.60 251.98 L107.00 252.20 L107.40 251.73 L107.80 252.13 L108.20 251.94 L108.60 252.27 L109.00 252.05 L109.40 252.61 L109.80 252.39 L110.20 252.76 L110.60 252.30 L111.00 252.99 L111.40 252.59 L111.80 253.07 L112.20 252.68 L112.60 253.57 L113.00 253.40 L113.40 254.60 L113.80 254.68 L114.20 255.40 L114.60 255.66 L115.00 256.51 L115.40 256.72 L115.80 258.07 L116.20 257.69 L116.60 258.75 L117.00 258.43 L117.40 259.90 L117.80 259.70 L118.20 261.48 L118.60 260.68 L119.00 262.82 L119.40 262.45 L119.80 263.51 L120.20 262.72 L120.60 265.55 L121.00 264.09 L121.40 265.28 L121.80 264.02 L122.20 264.99 L122.60 264.62 L123.00 264.94 L123.40 264.53 L123.80 266.23 L124.20 264.71 L124.60 266.32 L125.00 264.33 L125.40 265.32 L125.80 264.00 L126.20 264.76 L126.60 264.11 L127.00 265.64 L127.40 264.61 L127.80 266.43 L128.20 264.47 L128.60 267.25 L129.00 265.41 L129.40 267.07 L129.80 264.64 L130.20 268.00 L130.60 266.71 L131.00 267.96 L131.40 266.57 L131.80 268.75 L132.20 267.44 L132.60 269.30 L133.00 268.00 L133.40 270.70 L133.80 269.32 L134.20 271.56 L134.60 270.85 L135.00 271.87 L135.40 270.00 L135.80 272.67 L136.20 270.57 L136.60 272.07 L137.00 269.93 L137.40 272.03 L137.80 269.02 L138.20 271.83 L138.60 269.41 L139.00 270.19 L139.40 269.43 L139.80 270.85 L140.20 268.34 L140.60 271.38 L141.00 270.39 L141.40 272.01 L141.80 269.78 L142.20 272.95 L142.60 271.29 L143.00 272.74 L143.40 270.57 L143.80 273.05 L144.20 271.49 L144.60 274.10 L145.00 271.99 L145.40 275.35 L145.80 273.61 L146.20 275.21 L146.60 273.12 L147.00 275.97 L147.40 274.55 L147.80 276.65 L148.20 275.05 L148.60 277.26 L149.00 277.30 L149.40 277.17 L149.80 274.51 L150.20 275.68 L150.60 274.47 L151.00 275.97 L151.40 273.48 L151.80 274.18 L152.20 272.30 L152.60 274.06 L153.00 271.08 L153.40 273.36 L153.80 270.25 L154.20 272.27 L154.60 270.65 L155.00 273.47 L155.40 272.16 L155.80 273.72 L156.20 272.79 L156.60 274.68 L157.00 271.67 L157.40 276.77 L157.80 274.78 L158.20 276.46 L158.60 275.39 L159.00 279.44 L159.40 277.65 L159.80 280.39 L160.20 276.49 L160.60 282.32 L161.00 279.61 L161.40 281.80 L161.80 279.97 L162.20 282.67 L162.60 281.52 L163.00 286.02 L163.40 283.29 L163.80 286.90 L164.20 282.73 L164.60 287.04 L165.00 282.72 L165.40 286.92 L165.80 282.86 L166.20 286.97 L166.60 282.45 L167.00 287.60 L167.40 282.36 L167.80 287.72 L168.20 285.91 L168.60 288.45 L169.00 286.55 L169.40 290.98 L169.80 288.06 L170.20 289.79 L170.60 288.00 L171.00 292.05 L171.40 289.27 L171.80 292.58 L172.20 289.34 L172.60 294.74 L173.00 291.82 L173.40 295.70 L173.80 289.59 L174.20 293.87 L174.60 290.23 L175.00 294.13 L175.40 290.23 L175.80 293.40 L176.20 289.21 L176.60 292.19 L177.00 287.62 L177.40 292.18 L177.80 291.97 L178.20 294.66 L178.60 292.01 L179.00 296.23 L179.40 292.27 L179.80 296.80 L180.20 293.52 L180.60 300.74 L181.00 296.62 L181.40 301.74 L181.80 298.86 L182.20 301.77 L182.60 300.52 L183.00 303.88 L183.40 302.01 L183.80 306.48 L184.20 299.48 L184.60 305.84 L185.00 300.24 L185.40 304.74 L185.80 302.06 L186.20 305.17 L186.60 300.62 L187.00 306.17 L187.40 301.94 L187.80 306.48 L188.20 302.86 L188.60 305.06 L189.00 302.67 L189.40 305.39 L189.80 303.47 L190.20 307.03 L190.60 303.61 L191.00 306.34 L191.40 303.30 L191.80 306.67 L192.20 303.90 L192.60 309.54 L193.00 306.63 L193.40 310.79 L193.80 304.11 L194.20 308.00 L194.60 305.20 L195.00 309.06 L195.40 307.08 L195.80 311.12 L196.20 308.89 L196.60 310.80 L197.00 308.11 L197.40 311.07 L197.80 310.00 L198.20 312.13 L198.60 310.74 L199.00 313.96 L199.40 311.71 L199.80 314.90 L200.20 311.37 L200.60 314.02 L201.00 311.99 L201.40 315.63 L201.80 312.71 L202.20 316.11 L202.60 313.58 L203.00 315.34 L203.40 311.04 L203.80 314.84 L204.20 310.65 L204.60 314.51 L205.00 311.70 L205.40 315.74 L205.80 312.76 L206.20 315.86 L206.60 310.54 L207.00 311.67 L207.40 308.10 L207.80 307.89 L208.20 304.70 L208.60 304.81 L209.00 302.68 L209.40 302.24 L209.80 300.42 L210.20 300.44 L210.60 298.12 L211.00 297.72 L211.40 295.66 L211.80 295.42 L212.20 293.90 L212.60 293.38 L213.00 291.76 L213.40 291.05 L213.80 289.69 L214.20 288.81 L214.60 287.48 L215.00 286.56 L215.40 285.05 L215.80 285.04 L216.20 283.20 L216.60 282.58 L217.00 281.12 L217.40 280.74 L217.80 278.99 L218.20 278.62 L218.60 276.87 L219.00 276.07 L219.40 274.79 L219.80 274.51 L220.20 273.31 L220.60 272.79 L221.00 271.71 L221.40 271.55 L221.80 270.41 L222.20 269.96 L222.60 268.68 L223.00 268.72 L223.40 267.49 L223.80 267.08 L224.20 266.12 L224.60 265.87 L225.00 264.97 L225.40 265.03 L225.80 263.92 L226.20 264.09 L226.60 263.09 L227.00 263.61 L227.40 262.60 L227.80 262.48 L228.20 261.88 L228.60 261.89 L229.00 261.08 L229.40 260.92 L229.80 260.06 L230.20 260.26 L230.60 259.41 L231.00 259.91 L231.40 259.16 L231.80 259.61 L232.20 258.59 L232.60 259.27 L233.00 258.41 L233.40 258.48 L233.80 258.06 L234.20 258.11 L234.60 257.12 L235.00 257.87 L235.40 257.12 L235.80 257.40 L236.20 256.76 L236.60 257.37 L237.00 256.40 L237.40 256.80 L237.80 256.18 L238.20 256.88 L238.60 256.16 L239.00 256.54 L239.40 256.02 L239.80 256.61 L240.20 256.14 L240.60 256.82 L241.00 256.09 L241.40 256.66 L241.80 256.03 L242.20 256.43 L242.60 255.88 L243.00 256.34 L243.40 255.52 L243.80 256.31 L244.20 255.34 L244.60 255.94 L245.00 255.51 L245.40 255.64 L245.80 255.54 L246.20 255.95 L246.60 255.25 L247.00 255.83 L247.40 255.35 L247.80 255.53 L248.20 254.94 L248.60 255.42 L249.00 255.08 L249.40 255.69 L249.80 254.78 L250.20 255.57 L250.60 254.66 L251.00 255.63 L251.40 254.82 L251.80 255.51 L252.20 255.05 L252.60 255.51 L253.00 254.68 L253.40 255.28 L253.80 254.60 L254.20 255.16 L254.60 254.74 L255.00 255.00 L255.40 254.64 L255.80 254.95 L256.20 254.56 L256.60 255.02 L257.00 254.25 L257.40 255.23 L257.80 254.63 L258.20 255.15 L258.60 254.34 L259.00 254.58 L259.40 254.39 L259.80 254.76 L260.20 253.99 L260.60 254.68 L261.00 254.17 L261.40 254.89 L261.80 254.27 L262.20 254.62 L262.60 254.36 L263.00 254.42 L263.40 254.01 L263.80 254.42 L264.20 253.79 L264.60 254.61 L265.00 253.80 L265.40 254.58 L265.80 254.18 L266.20 254.72 L266.60 253.90 L267.00 254.46 L267.40 254.04 L267.80 254.34 L268.20 254.25 L268.60 254.51 L269.00 254.35 L269.40 254.70 L269.80 253.95 L270.20 254.71 L270.60 254.05 L271.00 254.58 L271.40 254.31 L271.80 254.66 L272.20 254.08 L272.60 255.08 L273.00 254.21 L273.40 254.89 L273.80 254.43 L274.20 254.68 L274.60 254.40 L275.00 254.84 L275.40 254.48 L275.80 254.86 L276.20 254.41 L276.60 254.60 L277.00 254.32 L277.40 254.88 L277.80 254.09 L278.20 254.60 L278.60 254.34 L279.00 254.89 L279.40 254.28 L279.80 254.84 L280.20 254.20 L280.60 254.72 L281.00 254.55 L281.40 254.74 L281.80 254.46 L282.20 255.00 L282.60 254.59 L283.00 254.86 L283.40 254.31 L283.80 254.94 L284.20 254.64 L284.60 255.17 L285.00 254.70 L285.40 254.88 L285.80 254.61 L286.20 255.20 L286.60 254.56" fill="none" stroke="#d21515" stroke-width="1.6" stroke-linejoin="round"/>
<path d="M29.40 337.05 L29.80 336.71 L30.20 337.05 L30.60 336.77 L31.00 336.86 L31.40 336.69 L31.80 336.92 L32.20 336.66 L32.60 336.94 L33.00 336.72 L33.40 336.86 L33.80 336.62 L34.20 336.90 L34.60 336.73 L35.00 337.00 L35.40 336.63 L35.80 337.08 L36.20 336.72 L36.60 336.91 L37.00 336.66 L37.40 336.99 L37.80 336.84 L38.20 337.03 L38.60 336.72 L39.00 336.96 L39.40 336.75 L39.80 336.94 L40.20 336.81 L40.60 336.94 L41.00 336.81 L41.40 337.06 L41.80 336.83 L42.20 337.01 L42.60 336.75 L43.00 336.83 L43.40 336.75 L43.80 337.06 L44.20 336.61 L44.60 337.04 L45.00 336.60 L45.40 337.07 L45.80 336.77 L46.20 336.92 L46.60 336.72 L47.00 336.92 L47.40 336.71 L47.80 336.89 L48.20 336.59 L48.60 336.86 L49.00 336.57 L49.40 336.94 L49.80 336.73 L50.20 336.89 L50.60 336.69 L51.00 336.96 L51.40 336.69 L51.80 336.84 L52.20 336.68 L52.60 336.87 L53.00 336.58 L53.40 336.83 L53.80 336.63 L54.20 336.94 L54.60 336.68 L55.00 336.79 L55.40 336.48 L55.80 336.91 L56.20 336.53 L56.60 336.78 L57.00 336.53 L57.40 336.82 L57.80 336.64 L58.20 336.90 L58.60 336.55 L59.00 336.85 L59.40 336.70 L59.80 336.79 L60.20 336.69 L60.60 336.95 L61.00 336.55 L61.40 336.83 L61.80 336.53 L62.20 336.78 L62.60 336.62 L63.00 336.84 L63.40 336.66 L63.80 336.74 L64.20 336.58 L64.60 336.76 L65.00 336.51 L65.40 336.70 L65.80 336.51 L66.20 336.74 L66.60 336.44 L67.00 336.80 L67.40 336.55 L67.80 336.72 L68.20 336.50 L68.60 336.66 L69.00 336.54 L69.40 336.74 L69.80 336.65 L70.20 336.77 L70.60 336.64 L71.00 336.74 L71.40 336.48 L71.80 336.75 L72.20 336.60 L72.60 336.72 L73.00 336.63 L73.40 336.89 L73.80 336.55 L74.20 336.83 L74.60 336.59 L75.00 336.79 L75.40 336.63 L75.80 336.68 L76.20 336.55 L76.60 336.67 L77.00 336.45 L77.40 336.74 L77.80 336.31 L78.20 336.68 L78.60 336.50 L79.00 336.67 L79.40 336.51 L79.80 336.74 L80.20 336.49 L80.60 336.79 L81.00 336.53 L81.40 336.68 L81.80 336.50 L82.20 336.65 L82.60 336.32 L83.00 336.63 L83.40 336.39 L83.80 336.65 L84.20 336.51 L84.60 336.69 L85.00 336.51 L85.40 336.60 L85.80 336.34 L86.20 336.73 L86.60 336.43 L87.00 336.60 L87.40 336.37 L87.80 336.66 L88.20 336.34 L88.60 336.59 L89.00 336.33 L89.40 336.58 L89.80 336.42 L90.20 336.64 L90.60 336.36 L91.00 336.61 L91.40 336.41 L91.80 336.66 L92.20 336.43 L92.60 336.78 L93.00 336.35 L93.40 336.61 L93.80 336.28 L94.20 336.66 L94.60 336.27 L95.00 336.75 L95.40 336.62 L95.80 336.84 L96.20 336.62 L96.60 337.05 L97.00 336.63 L97.40 336.95 L97.80 336.92 L98.20 337.16 L98.60 336.99 L99.00 337.24 L99.40 336.99 L99.80 337.62 L100.20 337.12 L100.60 337.74 L101.00 337.27 L101.40 337.64 L101.80 337.50 L102.20 337.96 L102.60 337.53 L103.00 338.06 L103.40 337.84 L103.80 338.09 L104.20 337.75 L104.60 338.30 L105.00 338.02 L105.40 338.50 L105.80 338.05 L106.20 338.35 L106.60 338.16 L107.00 338.57 L107.40 338.40 L107.80 338.95 L108.20 338.67 L108.60 339.43 L109.00 339.10 L109.40 339.61 L109.80 339.60 L110.20 339.97 L110.60 339.82 L111.00 340.47 L111.40 340.37 L111.80 340.76 L112.20 340.83 L112.60 341.42 L113.00 340.97 L113.40 341.84 L113.80 341.22 L114.20 342.28 L114.60 341.90 L115.00 342.81 L115.40 342.35 L115.80 342.85 L116.20 342.69 L116.60 343.19 L117.00 343.05 L117.40 343.48 L117.80 343.13 L118.20 343.99 L118.60 343.81 L119.00 344.05 L119.40 343.51 L119.80 344.48 L120.20 343.63 L120.60 344.82 L121.00 344.04 L121.40 344.89 L121.80 344.68 L122.20 345.38 L122.60 344.59 L123.00 345.39 L123.40 344.51 L123.80 345.52 L124.20 345.12 L124.60 345.87 L125.00 345.37 L125.40 346.20 L125.80 345.32 L126.20 346.19 L126.60 345.78 L127.00 346.92 L127.40 345.53 L127.80 346.78 L128.20 346.61 L128.60 347.38 L129.00 347.20 L129.40 347.86 L129.80 347.27 L130.20 348.48 L130.60 347.68 L131.00 348.75 L131.40 347.56 L131.80 348.58 L132.20 347.78 L132.60 348.44 L133.00 347.28 L133.40 348.13 L133.80 346.58 L134.20 347.64 L134.60 346.51 L135.00 347.14 L135.40 346.18 L135.80 346.78 L136.20 345.96 L136.60 346.20 L137.00 345.37 L137.40 346.03 L137.80 344.59 L138.20 345.69 L138.60 345.00 L139.00 345.22 L139.40 344.90 L139.80 345.05 L140.20 344.24 L140.60 344.66 L141.00 343.68 L141.40 344.94 L141.80 344.00 L142.20 345.55 L142.60 344.60 L143.00 345.91 L143.40 345.57 L143.80 345.95 L144.20 344.94 L144.60 346.10 L145.00 345.34 L145.40 345.95 L145.80 344.74 L146.20 345.74 L146.60 345.19 L147.00 346.30 L147.40 345.89 L147.80 346.93 L148.20 345.49 L148.60 347.02 L149.00 346.83 L149.40 347.35 L149.80 347.20 L150.20 347.69 L150.60 347.45 L151.00 348.32 L151.40 347.11 L151.80 348.52 L152.20 347.41 L152.60 349.33 L153.00 347.70 L153.40 349.86 L153.80 349.15 L154.20 350.40 L154.60 349.04 L155.00 350.53 L155.40 349.73 L155.80 351.05 L156.20 350.43 L156.60 351.28 L157.00 350.73 L157.40 351.66 L157.80 351.22 L158.20 352.34 L158.60 351.03 L159.00 353.52 L159.40 351.57 L159.80 353.28 L160.20 352.36 L160.60 354.39 L161.00 352.51 L161.40 353.86 L161.80 353.53 L162.20 354.49 L162.60 353.57 L163.00 354.32 L163.40 353.98 L163.80 354.95 L164.20 354.02 L164.60 355.25 L165.00 353.68 L165.40 355.04 L165.80 353.56 L166.20 354.93 L166.60 354.26 L167.00 355.72 L167.40 353.45 L167.80 355.46 L168.20 353.80 L168.60 355.97 L169.00 354.00 L169.40 356.08 L169.80 355.01 L170.20 356.59 L170.60 355.01 L171.00 356.27 L171.40 355.54 L171.80 356.63 L172.20 356.37 L172.60 357.21 L173.00 356.84 L173.40 357.60 L173.80 356.77 L174.20 357.84 L174.60 357.53 L175.00 358.06 L175.40 356.45 L175.80 358.02 L176.20 357.78 L176.60 358.90 L177.00 357.92 L177.40 359.73 L177.80 357.37 L178.20 359.29 L178.60 359.05 L179.00 360.42 L179.40 358.75 L179.80 359.76 L180.20 359.09 L180.60 359.88 L181.00 358.96 L181.40 360.61 L181.80 358.62 L182.20 360.58 L182.60 358.49 L183.00 359.96 L183.40 359.41 L183.80 362.07 L184.20 360.79 L184.60 363.44 L185.00 362.52 L185.40 364.43 L185.80 363.03 L186.20 365.28 L186.60 364.00 L187.00 364.88 L187.40 363.18 L187.80 365.27 L188.20 363.72 L188.60 365.85 L189.00 364.34 L189.40 364.74 L189.80 364.55 L190.20 366.31 L190.60 365.23 L191.00 367.05 L191.40 366.52 L191.80 368.42 L192.20 367.12 L192.60 368.80 L193.00 366.70 L193.40 367.18 L193.80 366.59 L194.20 368.28 L194.60 366.19 L195.00 367.87 L195.40 366.48 L195.80 367.64 L196.20 366.07 L196.60 367.42 L197.00 366.68 L197.40 368.03 L197.80 366.74 L198.20 368.36 L198.60 365.88 L199.00 368.17 L199.40 366.71 L199.80 368.34 L200.20 366.81 L200.60 367.51 L201.00 366.03 L201.40 367.71 L201.80 366.28 L202.20 368.90 L202.60 366.51 L203.00 368.55 L203.40 367.60 L203.80 369.30 L204.20 367.76 L204.60 369.15 L205.00 368.02 L205.40 368.72 L205.80 366.67 L206.20 368.07 L206.60 366.97 L207.00 367.37 L207.40 366.50 L207.80 367.14 L208.20 365.83 L208.60 367.36 L209.00 365.83 L209.40 366.47 L209.80 365.56 L210.20 366.02 L210.60 364.76 L211.00 364.86 L211.40 363.93 L211.80 363.90 L212.20 362.32 L212.60 362.73 L213.00 361.87 L213.40 362.05 L213.80 361.08 L214.20 360.99 L214.60 359.76 L215.00 360.07 L215.40 358.91 L215.80 359.09 L216.20 358.01 L216.60 358.56 L217.00 357.36 L217.40 357.82 L217.80 356.38 L218.20 356.61 L218.60 355.66 L219.00 355.82 L219.40 354.93 L219.80 354.77 L220.20 353.70 L220.60 354.11 L221.00 353.25 L221.40 353.24 L221.80 352.29 L222.20 352.29 L222.60 351.25 L223.00 351.50 L223.40 350.72 L223.80 351.07 L224.20 350.74 L224.60 350.64 L225.00 350.10 L225.40 350.39 L225.80 349.90 L226.20 349.91 L226.60 349.27 L227.00 349.67 L227.40 349.09 L227.80 349.06 L228.20 348.30 L228.60 348.57 L229.00 347.80 L229.40 348.23 L229.80 347.41 L230.20 347.88 L230.60 346.99 L231.00 347.29 L231.40 346.76 L231.80 346.88 L232.20 346.08 L232.60 346.61 L233.00 345.75 L233.40 346.09 L233.80 345.50 L234.20 345.93 L234.60 345.13 L235.00 345.37 L235.40 344.55 L235.80 345.26 L236.20 344.04 L236.60 344.80 L237.00 343.68 L237.40 344.35 L237.80 343.27 L238.20 343.72 L238.60 343.32 L239.00 343.57 L239.40 343.21 L239.80 343.53 L240.20 342.56 L240.60 343.17 L241.00 342.71 L241.40 343.41 L241.80 342.62 L242.20 342.80 L242.60 342.39 L243.00 343.09 L243.40 342.34 L243.80 342.62 L244.20 342.17 L244.60 342.55 L245.00 342.12 L245.40 342.49 L245.80 341.89 L246.20 342.10 L246.60 341.85 L247.00 342.36 L247.40 341.46 L247.80 342.04 L248.20 341.60 L248.60 341.95 L249.00 341.45 L249.40 341.93 L249.80 341.41 L250.20 341.68 L250.60 341.24 L251.00 341.33 L251.40 340.87 L251.80 341.28 L252.20 340.86 L252.60 341.31 L253.00 340.52 L253.40 341.25 L253.80 340.51 L254.20 341.02 L254.60 340.27 L255.00 341.01 L255.40 340.63 L255.80 340.85 L256.20 340.64 L256.60 341.13 L257.00 340.28 L257.40 340.75 L257.80 340.47 L258.20 340.79 L258.60 340.35 L259.00 341.05 L259.40 339.92 L259.80 340.76 L260.20 340.02 L260.60 340.61 L261.00 340.14 L261.40 340.53 L261.80 339.93 L262.20 340.47 L262.60 339.77 L263.00 340.14 L263.40 339.64 L263.80 340.24 L264.20 339.63 L264.60 340.20 L265.00 339.52 L265.40 339.98 L265.80 339.71 L266.20 340.13 L266.60 339.69 L267.00 339.89 L267.40 339.65 L267.80 339.87 L268.20 339.66 L268.60 340.22 L269.00 339.41 L269.40 339.99 L269.80 339.31 L270.20 339.80 L270.60 339.54 L271.00 339.95 L271.40 339.74 L271.80 339.85 L272.20 339.20 L272.60 339.71 L273.00 339.36 L273.40 339.62 L273.80 339.25 L274.20 339.69 L274.60 339.20 L275.00 339.81 L275.40 339.26 L275.80 339.83 L276.20 339.57 L276.60 339.87 L277.00 339.17 L277.40 339.71 L277.80 339.52 L278.20 340.01 L278.60 339.38 L279.00 339.72 L279.40 339.47 L279.80 339.78 L280.20 339.56 L280.60 339.62 L281.00 339.23 L281.40 339.81 L281.80 339.18 L282.20 339.51 L282.60 339.05 L283.00 339.87 L283.40 339.28 L283.80 339.70 L284.20 339.03 L284.60 339.79 L285.00 339.48 L285.40 339.95 L285.80 339.19 L286.20 339.89 L286.60 339.05" fill="none" stroke="#d21515" stroke-width="1.6" stroke-linejoin="round"/>
<line x1="59.3" y1="188" x2="59.3" y2="225.5" stroke="#b94545" stroke-width="0.9"/>
<line x1="172.6" y1="353.3" x2="172.6" y2="368.9" stroke="#c05050" stroke-width="0.9"/>
<text x="257.8" y="61.8" font-size="12.6" fill="#231f20">WT</text>
<text x="257" y="136.1" font-size="12.2" font-style="italic" letter-spacing="0.22" fill="#231f20">otpl-1</text>
<text x="257" y="210.2" font-size="12.2" font-style="italic" letter-spacing="0.22" fill="#231f20">otpl-2</text>
<text x="257" y="272.0" font-size="12.2" font-style="italic" letter-spacing="0.22" fill="#231f20">otpl-4</text>
<text x="257" y="349.0" font-size="12.2" font-style="italic" letter-spacing="0.22" fill="#231f20">otpl-7</text>
<path d="M61.6 361.5 V378.2 H98.7" fill="none" stroke="#231f20" stroke-width="1.6"/>
<text x="23.8" y="372.9" font-size="11.2" fill="#231f20">100 pA</text>
<text x="73" y="389.2" font-size="11.2" fill="#231f20">4 s</text>
<path d="M358.3 40.2 V168.9 H495.5" fill="none" stroke="#000" stroke-width="2.3"/>
<line x1="353.3" y1="168.9" x2="358.3" y2="168.9" stroke="#000" stroke-width="2"/>
<text x="353.3" y="172.2" font-size="11.5" text-anchor="end" fill="#231f20">0</text>
<line x1="353.3" y1="143.38" x2="358.3" y2="143.38" stroke="#000" stroke-width="2"/>
<text x="353.3" y="146.68" font-size="11.5" text-anchor="end" fill="#231f20">50</text>
<line x1="353.3" y1="117.86" x2="358.3" y2="117.86" stroke="#000" stroke-width="2"/>
<text x="353.3" y="121.16" font-size="11.5" text-anchor="end" fill="#231f20">100</text>
<line x1="353.3" y1="92.34" x2="358.3" y2="92.34" stroke="#000" stroke-width="2"/>
<text x="353.3" y="95.64" font-size="11.5" text-anchor="end" fill="#231f20">150</text>
<line x1="353.3" y1="66.82" x2="358.3" y2="66.82" stroke="#000" stroke-width="2"/>
<text x="353.3" y="70.12" font-size="11.5" text-anchor="end" fill="#231f20">200</text>
<line x1="353.3" y1="41.3" x2="358.3" y2="41.3" stroke="#000" stroke-width="2"/>
<text x="353.3" y="44.6" font-size="11.5" text-anchor="end" fill="#231f20">250</text>
<line x1="392.4" y1="168.9" x2="392.4" y2="172.9" stroke="#000" stroke-width="2"/>
<line x1="426.4" y1="168.9" x2="426.4" y2="172.9" stroke="#000" stroke-width="2"/>
<line x1="460.4" y1="168.9" x2="460.4" y2="172.9" stroke="#000" stroke-width="2"/>
<text transform="translate(395.3 181.9) rotate(-30)" font-size="11.4" text-anchor="end" fill="#231f20">pH 3</text>
<text transform="translate(432.8 181.9) rotate(-30)" font-size="11.4" text-anchor="end" fill="#231f20">pH 3+ Zn<tspan font-size="8.6" dy="-4.4">2+</tspan></text>
<text transform="translate(463.8 181.9) rotate(-30)" font-size="11.4" text-anchor="end" fill="#231f20">pH 3</text>
<text transform="translate(328.7 101.1) rotate(-90)" font-size="13.2" text-anchor="middle" fill="#231f20">Current (-pA)</text>
<polyline points="392.4,132.2 426.4,125.9 460.4,89.3" fill="none" stroke="#433a8c" stroke-width="2.5"/>
<line x1="392.4" y1="128.5" x2="392.4" y2="137" stroke="#433a8c" stroke-width="2.7"/>
<line x1="389.6" y1="128.5" x2="395.2" y2="128.5" stroke="#433a8c" stroke-width="2.9" stroke-linecap="round"/>
<line x1="389.6" y1="137" x2="395.2" y2="137" stroke="#433a8c" stroke-width="2.9" stroke-linecap="round"/>
<circle cx="392.4" cy="132.2" r="2.6" fill="#433a8c"/>
<line x1="426.4" y1="120.4" x2="426.4" y2="131.9" stroke="#433a8c" stroke-width="2.7"/>
<line x1="423.6" y1="120.4" x2="429.2" y2="120.4" stroke="#433a8c" stroke-width="2.9" stroke-linecap="round"/>
<line x1="423.6" y1="131.9" x2="429.2" y2="131.9" stroke="#433a8c" stroke-width="2.9" stroke-linecap="round"/>
<circle cx="426.4" cy="125.9" r="2.6" fill="#433a8c"/>
<line x1="460.4" y1="76" x2="460.4" y2="102" stroke="#433a8c" stroke-width="2.7"/>
<line x1="457.6" y1="76" x2="463.2" y2="76" stroke="#433a8c" stroke-width="2.9" stroke-linecap="round"/>
<line x1="457.6" y1="102" x2="463.2" y2="102" stroke="#433a8c" stroke-width="2.9" stroke-linecap="round"/>
<circle cx="460.4" cy="89.3" r="2.6" fill="#433a8c"/>
<polyline points="392.4,135.9 426.4,131.6 460.4,77" fill="none" stroke="#d5101f" stroke-width="2.5"/>
<line x1="392.4" y1="131.3" x2="392.4" y2="142.4" stroke="#d5101f" stroke-width="2.7"/>
<line x1="389.6" y1="131.3" x2="395.2" y2="131.3" stroke="#d5101f" stroke-width="2.9" stroke-linecap="round"/>
<line x1="389.6" y1="142.4" x2="395.2" y2="142.4" stroke="#d5101f" stroke-width="2.9" stroke-linecap="round"/>
<rect x="389.7" y="133.2" width="5.4" height="5.4" fill="#d5101f"/>
<line x1="426.4" y1="121.8" x2="426.4" y2="141.2" stroke="#d5101f" stroke-width="2.7"/>
<line x1="423.6" y1="121.8" x2="429.2" y2="121.8" stroke="#d5101f" stroke-width="2.9" stroke-linecap="round"/>
<line x1="423.6" y1="141.2" x2="429.2" y2="141.2" stroke="#d5101f" stroke-width="2.9" stroke-linecap="round"/>
<rect x="423.7" y="128.9" width="5.4" height="5.4" fill="#d5101f"/>
<line x1="460.4" y1="53.2" x2="460.4" y2="99.5" stroke="#d5101f" stroke-width="2.7"/>
<line x1="457.6" y1="53.2" x2="463.2" y2="53.2" stroke="#d5101f" stroke-width="2.9" stroke-linecap="round"/>
<line x1="457.6" y1="99.5" x2="463.2" y2="99.5" stroke="#d5101f" stroke-width="2.9" stroke-linecap="round"/>
<rect x="457.7" y="74.3" width="5.4" height="5.4" fill="#d5101f"/>
<line x1="458.4" y1="130.1" x2="472.1" y2="130.1" stroke="#433a8c" stroke-width="1.9"/>
<circle cx="465.2" cy="130.1" r="2.4" fill="#433a8c"/>
<line x1="458.4" y1="144.3" x2="472.1" y2="144.3" stroke="#d5101f" stroke-width="2.2"/>
<rect x="462.7" y="141.8" width="5" height="5" fill="#d5101f"/>
<text x="478.9" y="133.6" font-size="10.5" font-weight="bold" fill="#111" textLength="15.2" lengthAdjust="spacingAndGlyphs">WT</text>
<text x="478.7" y="147.7" font-size="10.2" font-weight="bold" font-style="italic" fill="#111" textLength="24.6" lengthAdjust="spacingAndGlyphs">otpl-1</text>
<path d="M579 40.8 V169.7 H715.8" fill="none" stroke="#000" stroke-width="2.3"/>
<line x1="574" y1="169.7" x2="579" y2="169.7" stroke="#000" stroke-width="2"/>
<text x="574" y="173" font-size="11.5" text-anchor="end" fill="#231f20">0</text>
<line x1="574" y1="127.1" x2="579" y2="127.1" stroke="#000" stroke-width="2"/>
<text x="574" y="130.4" font-size="11.5" text-anchor="end" fill="#231f20">100</text>
<line x1="574" y1="84.5" x2="579" y2="84.5" stroke="#000" stroke-width="2"/>
<text x="574" y="87.8" font-size="11.5" text-anchor="end" fill="#231f20">200</text>
<line x1="574" y1="41.9" x2="579" y2="41.9" stroke="#000" stroke-width="2"/>
<text x="574" y="45.2" font-size="11.5" text-anchor="end" fill="#231f20">300</text>
<line x1="613" y1="169.7" x2="613" y2="173.7" stroke="#000" stroke-width="2"/>
<line x1="646.7" y1="169.7" x2="646.7" y2="173.7" stroke="#000" stroke-width="2"/>
<line x1="680.5" y1="169.7" x2="680.5" y2="173.7" stroke="#000" stroke-width="2"/>
<text transform="translate(617.4 183) rotate(-30)" font-size="11.4" text-anchor="end" fill="#231f20">pH 3</text>
<text transform="translate(654.5 183) rotate(-30)" font-size="11.4" text-anchor="end" fill="#231f20">pH 3+ Zn<tspan font-size="8.6" dy="-4.4">2+</tspan></text>
<text transform="translate(686.4 183) rotate(-30)" font-size="11.4" text-anchor="end" fill="#231f20">pH 3</text>
<text transform="translate(549.4 102.8) rotate(-90)" font-size="13.2" text-anchor="middle" fill="#231f20">Current (-pA)</text>
<polyline points="613,142.3 646.7,125.2 680.5,100.1" fill="none" stroke="#433a8c" stroke-width="2.5"/>
<line x1="613" y1="138.9" x2="613" y2="150.6" stroke="#433a8c" stroke-width="2.7"/>
<line x1="610.2" y1="138.9" x2="615.8" y2="138.9" stroke="#433a8c" stroke-width="2.9" stroke-linecap="round"/>
<line x1="610.2" y1="150.6" x2="615.8" y2="150.6" stroke="#433a8c" stroke-width="2.9" stroke-linecap="round"/>
<circle cx="613" cy="142.3" r="2.6" fill="#433a8c"/>
<line x1="646.7" y1="106.7" x2="646.7" y2="139.8" stroke="#433a8c" stroke-width="2.7"/>
<line x1="643.9" y1="106.7" x2="649.5" y2="106.7" stroke="#433a8c" stroke-width="2.9" stroke-linecap="round"/>
<line x1="643.9" y1="139.8" x2="649.5" y2="139.8" stroke="#433a8c" stroke-width="2.9" stroke-linecap="round"/>
<circle cx="646.7" cy="125.2" r="2.6" fill="#433a8c"/>
<line x1="680.5" y1="79.5" x2="680.5" y2="119" stroke="#433a8c" stroke-width="2.7"/>
<line x1="677.7" y1="79.5" x2="683.3" y2="79.5" stroke="#433a8c" stroke-width="2.9" stroke-linecap="round"/>
<line x1="677.7" y1="119" x2="683.3" y2="119" stroke="#433a8c" stroke-width="2.9" stroke-linecap="round"/>
<circle cx="680.5" cy="100.1" r="2.6" fill="#433a8c"/>
<polyline points="613,146 646.7,132.4 680.5,86.6" fill="none" stroke="#d5101f" stroke-width="2.5"/>
<line x1="613" y1="143.2" x2="613" y2="151.2" stroke="#d5101f" stroke-width="2.7"/>
<line x1="610.2" y1="143.2" x2="615.8" y2="143.2" stroke="#d5101f" stroke-width="2.9" stroke-linecap="round"/>
<line x1="610.2" y1="151.2" x2="615.8" y2="151.2" stroke="#d5101f" stroke-width="2.9" stroke-linecap="round"/>
<rect x="610.3" y="143.3" width="5.4" height="5.4" fill="#d5101f"/>
<line x1="646.7" y1="128.5" x2="646.7" y2="136.9" stroke="#d5101f" stroke-width="2.7"/>
<line x1="643.9" y1="128.5" x2="649.5" y2="128.5" stroke="#d5101f" stroke-width="2.9" stroke-linecap="round"/>
<line x1="643.9" y1="136.9" x2="649.5" y2="136.9" stroke="#d5101f" stroke-width="2.9" stroke-linecap="round"/>
<rect x="644" y="129.7" width="5.4" height="5.4" fill="#d5101f"/>
<line x1="680.5" y1="55.2" x2="680.5" y2="119.7" stroke="#d5101f" stroke-width="2.7"/>
<line x1="677.7" y1="55.2" x2="683.3" y2="55.2" stroke="#d5101f" stroke-width="2.9" stroke-linecap="round"/>
<line x1="677.7" y1="119.7" x2="683.3" y2="119.7" stroke="#d5101f" stroke-width="2.9" stroke-linecap="round"/>
<rect x="677.8" y="83.9" width="5.4" height="5.4" fill="#d5101f"/>
<line x1="693.2" y1="138.4" x2="706.9" y2="138.4" stroke="#433a8c" stroke-width="1.9"/>
<circle cx="700" cy="138.4" r="2.4" fill="#433a8c"/>
<line x1="693.2" y1="152.6" x2="706.9" y2="152.6" stroke="#d5101f" stroke-width="2.2"/>
<rect x="697.5" y="150.1" width="5" height="5" fill="#d5101f"/>
<text x="713.7" y="141.9" font-size="10.5" font-weight="bold" fill="#111" textLength="15.2" lengthAdjust="spacingAndGlyphs">WT</text>
<text x="713.5" y="156" font-size="10.2" font-weight="bold" font-style="italic" fill="#111" textLength="24.6" lengthAdjust="spacingAndGlyphs">otpl-2</text>
<path d="M356.7 246.8 V375.9 H494" fill="none" stroke="#000" stroke-width="2.3"/>
<line x1="351.7" y1="375.9" x2="356.7" y2="375.9" stroke="#000" stroke-width="2"/>
<text x="351.7" y="379.2" font-size="11.5" text-anchor="end" fill="#231f20">0</text>
<line x1="351.7" y1="350.3" x2="356.7" y2="350.3" stroke="#000" stroke-width="2"/>
<text x="351.7" y="353.6" font-size="11.5" text-anchor="end" fill="#231f20">50</text>
<line x1="351.7" y1="324.7" x2="356.7" y2="324.7" stroke="#000" stroke-width="2"/>
<text x="351.7" y="328" font-size="11.5" text-anchor="end" fill="#231f20">100</text>
<line x1="351.7" y1="299.1" x2="356.7" y2="299.1" stroke="#000" stroke-width="2"/>
<text x="351.7" y="302.4" font-size="11.5" text-anchor="end" fill="#231f20">150</text>
<line x1="351.7" y1="273.5" x2="356.7" y2="273.5" stroke="#000" stroke-width="2"/>
<text x="351.7" y="276.8" font-size="11.5" text-anchor="end" fill="#231f20">200</text>
<line x1="351.7" y1="247.9" x2="356.7" y2="247.9" stroke="#000" stroke-width="2"/>
<text x="351.7" y="251.2" font-size="11.5" text-anchor="end" fill="#231f20">250</text>
<line x1="390.8" y1="375.9" x2="390.8" y2="379.9" stroke="#000" stroke-width="2"/>
<line x1="424.8" y1="375.9" x2="424.8" y2="379.9" stroke="#000" stroke-width="2"/>
<line x1="458.4" y1="375.9" x2="458.4" y2="379.9" stroke="#000" stroke-width="2"/>
<text transform="translate(394.4 389.4) rotate(-30)" font-size="11.4" text-anchor="end" fill="#231f20">pH 3</text>
<text transform="translate(432 389.4) rotate(-30)" font-size="11.4" text-anchor="end" fill="#231f20">pH 3+ Zn<tspan font-size="8.6" dy="-4.4">2+</tspan></text>
<text transform="translate(463.6 389.4) rotate(-30)" font-size="11.4" text-anchor="end" fill="#231f20">pH 3</text>
<text transform="translate(327.1 308.7) rotate(-90)" font-size="13.2" text-anchor="middle" fill="#231f20">Current (-pA)</text>
<polyline points="390.8,346.5 424.8,332.8 458.4,296.8" fill="none" stroke="#433a8c" stroke-width="2.5"/>
<line x1="390.8" y1="337.7" x2="390.8" y2="357.1" stroke="#433a8c" stroke-width="2.7"/>
<line x1="388" y1="337.7" x2="393.6" y2="337.7" stroke="#433a8c" stroke-width="2.9" stroke-linecap="round"/>
<line x1="388" y1="357.1" x2="393.6" y2="357.1" stroke="#433a8c" stroke-width="2.9" stroke-linecap="round"/>
<circle cx="390.8" cy="346.5" r="2.6" fill="#433a8c"/>
<line x1="424.8" y1="315.7" x2="424.8" y2="348" stroke="#433a8c" stroke-width="2.7"/>
<line x1="422" y1="315.7" x2="427.6" y2="315.7" stroke="#433a8c" stroke-width="2.9" stroke-linecap="round"/>
<line x1="422" y1="348" x2="427.6" y2="348" stroke="#433a8c" stroke-width="2.9" stroke-linecap="round"/>
<circle cx="424.8" cy="332.8" r="2.6" fill="#433a8c"/>
<line x1="458.4" y1="271.3" x2="458.4" y2="321.5" stroke="#433a8c" stroke-width="2.7"/>
<line x1="455.6" y1="271.3" x2="461.2" y2="271.3" stroke="#433a8c" stroke-width="2.9" stroke-linecap="round"/>
<line x1="455.6" y1="321.5" x2="461.2" y2="321.5" stroke="#433a8c" stroke-width="2.9" stroke-linecap="round"/>
<circle cx="458.4" cy="296.8" r="2.6" fill="#433a8c"/>
<polyline points="390.8,348 424.8,334.2 458.4,298.1" fill="none" stroke="#d5101f" stroke-width="2.5"/>
<line x1="390.8" y1="343.4" x2="390.8" y2="354.6" stroke="#d5101f" stroke-width="2.7"/>
<line x1="388" y1="343.4" x2="393.6" y2="343.4" stroke="#d5101f" stroke-width="2.9" stroke-linecap="round"/>
<line x1="388" y1="354.6" x2="393.6" y2="354.6" stroke="#d5101f" stroke-width="2.9" stroke-linecap="round"/>
<rect x="388.1" y="345.3" width="5.4" height="5.4" fill="#d5101f"/>
<line x1="424.8" y1="321.5" x2="424.8" y2="348" stroke="#d5101f" stroke-width="2.7"/>
<line x1="422" y1="321.5" x2="427.6" y2="321.5" stroke="#d5101f" stroke-width="2.9" stroke-linecap="round"/>
<line x1="422" y1="348" x2="427.6" y2="348" stroke="#d5101f" stroke-width="2.9" stroke-linecap="round"/>
<rect x="422.1" y="331.5" width="5.4" height="5.4" fill="#d5101f"/>
<line x1="458.4" y1="283.8" x2="458.4" y2="313.7" stroke="#d5101f" stroke-width="2.7"/>
<line x1="455.6" y1="283.8" x2="461.2" y2="283.8" stroke="#d5101f" stroke-width="2.9" stroke-linecap="round"/>
<line x1="455.6" y1="313.7" x2="461.2" y2="313.7" stroke="#d5101f" stroke-width="2.9" stroke-linecap="round"/>
<rect x="455.7" y="295.4" width="5.4" height="5.4" fill="#d5101f"/>
<line x1="458.3" y1="344.4" x2="472" y2="344.4" stroke="#433a8c" stroke-width="1.9"/>
<circle cx="465.1" cy="344.4" r="2.4" fill="#433a8c"/>
<line x1="458.3" y1="358.6" x2="472" y2="358.6" stroke="#d5101f" stroke-width="2.2"/>
<rect x="462.6" y="356.1" width="5" height="5" fill="#d5101f"/>
<text x="478.8" y="347.9" font-size="10.5" font-weight="bold" fill="#111" textLength="15.2" lengthAdjust="spacingAndGlyphs">WT</text>
<text x="478.6" y="362" font-size="10.2" font-weight="bold" font-style="italic" fill="#111" textLength="24.6" lengthAdjust="spacingAndGlyphs">otpl-4</text>
<path d="M582 249.2 V378.2 H718.6" fill="none" stroke="#000" stroke-width="2.3"/>
<line x1="577" y1="378.2" x2="582" y2="378.2" stroke="#000" stroke-width="2"/>
<text x="577" y="381.5" font-size="11.5" text-anchor="end" fill="#231f20">0</text>
<line x1="577" y1="335.57" x2="582" y2="335.57" stroke="#000" stroke-width="2"/>
<text x="577" y="338.87" font-size="11.5" text-anchor="end" fill="#231f20">100</text>
<line x1="577" y1="292.93" x2="582" y2="292.93" stroke="#000" stroke-width="2"/>
<text x="577" y="296.23" font-size="11.5" text-anchor="end" fill="#231f20">200</text>
<line x1="577" y1="250.3" x2="582" y2="250.3" stroke="#000" stroke-width="2"/>
<text x="577" y="253.6" font-size="11.5" text-anchor="end" fill="#231f20">300</text>
<line x1="615.9" y1="378.2" x2="615.9" y2="382.2" stroke="#000" stroke-width="2"/>
<line x1="650" y1="378.2" x2="650" y2="382.2" stroke="#000" stroke-width="2"/>
<line x1="684" y1="378.2" x2="684" y2="382.2" stroke="#000" stroke-width="2"/>
<text transform="translate(619.6 390.7) rotate(-30)" font-size="11.4" text-anchor="end" fill="#231f20">pH 3</text>
<text transform="translate(656.7 390.7) rotate(-30)" font-size="11.4" text-anchor="end" fill="#231f20">pH 3+ Zn<tspan font-size="8.6" dy="-4.4">2+</tspan></text>
<text transform="translate(687.7 390.7) rotate(-30)" font-size="11.4" text-anchor="end" fill="#231f20">pH 3</text>
<text transform="translate(552.4 313.4) rotate(-90)" font-size="13.2" text-anchor="middle" fill="#231f20">Current (-pA)</text>
<polyline points="615.9,355.2 650,349.9 684,294.4" fill="none" stroke="#433a8c" stroke-width="2.5"/>
<line x1="615.9" y1="352.2" x2="615.9" y2="360.5" stroke="#433a8c" stroke-width="2.7"/>
<line x1="613.1" y1="352.2" x2="618.7" y2="352.2" stroke="#433a8c" stroke-width="2.9" stroke-linecap="round"/>
<line x1="613.1" y1="360.5" x2="618.7" y2="360.5" stroke="#433a8c" stroke-width="2.9" stroke-linecap="round"/>
<circle cx="615.9" cy="355.2" r="2.6" fill="#433a8c"/>
<line x1="650" y1="338.1" x2="650" y2="363" stroke="#433a8c" stroke-width="2.7"/>
<line x1="647.2" y1="338.1" x2="652.8" y2="338.1" stroke="#433a8c" stroke-width="2.9" stroke-linecap="round"/>
<line x1="647.2" y1="363" x2="652.8" y2="363" stroke="#433a8c" stroke-width="2.9" stroke-linecap="round"/>
<circle cx="650" cy="349.9" r="2.6" fill="#433a8c"/>
<line x1="684" y1="261.8" x2="684" y2="326.6" stroke="#433a8c" stroke-width="2.7"/>
<line x1="681.2" y1="261.8" x2="686.8" y2="261.8" stroke="#433a8c" stroke-width="2.9" stroke-linecap="round"/>
<line x1="681.2" y1="326.6" x2="686.8" y2="326.6" stroke="#433a8c" stroke-width="2.9" stroke-linecap="round"/>
<circle cx="684" cy="294.4" r="2.6" fill="#433a8c"/>
<polyline points="615.9,354.6 650,350.2 684,326.3" fill="none" stroke="#d5101f" stroke-width="2.5"/>
<line x1="615.9" y1="350.6" x2="615.9" y2="358.8" stroke="#d5101f" stroke-width="2.7"/>
<line x1="613.1" y1="350.6" x2="618.7" y2="350.6" stroke="#d5101f" stroke-width="2.9" stroke-linecap="round"/>
<line x1="613.1" y1="358.8" x2="618.7" y2="358.8" stroke="#d5101f" stroke-width="2.9" stroke-linecap="round"/>
<rect x="613.2" y="351.9" width="5.4" height="5.4" fill="#d5101f"/>
<line x1="650" y1="346.4" x2="650" y2="354.7" stroke="#d5101f" stroke-width="2.7"/>
<line x1="647.2" y1="346.4" x2="652.8" y2="346.4" stroke="#d5101f" stroke-width="2.9" stroke-linecap="round"/>
<line x1="647.2" y1="354.7" x2="652.8" y2="354.7" stroke="#d5101f" stroke-width="2.9" stroke-linecap="round"/>
<rect x="647.3" y="347.5" width="5.4" height="5.4" fill="#d5101f"/>
<line x1="684" y1="321.3" x2="684" y2="331.2" stroke="#d5101f" stroke-width="2.7"/>
<line x1="681.2" y1="321.3" x2="686.8" y2="321.3" stroke="#d5101f" stroke-width="2.9" stroke-linecap="round"/>
<line x1="681.2" y1="331.2" x2="686.8" y2="331.2" stroke="#d5101f" stroke-width="2.9" stroke-linecap="round"/>
<rect x="681.3" y="323.6" width="5.4" height="5.4" fill="#d5101f"/>
<line x1="682.5" y1="339.3" x2="696.2" y2="339.3" stroke="#433a8c" stroke-width="1.9"/>
<circle cx="689.3" cy="339.3" r="2.4" fill="#433a8c"/>
<line x1="682.5" y1="353.5" x2="696.2" y2="353.5" stroke="#d5101f" stroke-width="2.2"/>
<rect x="686.8" y="351" width="5" height="5" fill="#d5101f"/>
<text x="703" y="342.8" font-size="10.5" font-weight="bold" fill="#111" textLength="15.2" lengthAdjust="spacingAndGlyphs">WT</text>
<text x="702.8" y="356.9" font-size="10.2" font-weight="bold" font-style="italic" fill="#111" textLength="24.6" lengthAdjust="spacingAndGlyphs">otpl-7</text>
</svg>
</body></html>
